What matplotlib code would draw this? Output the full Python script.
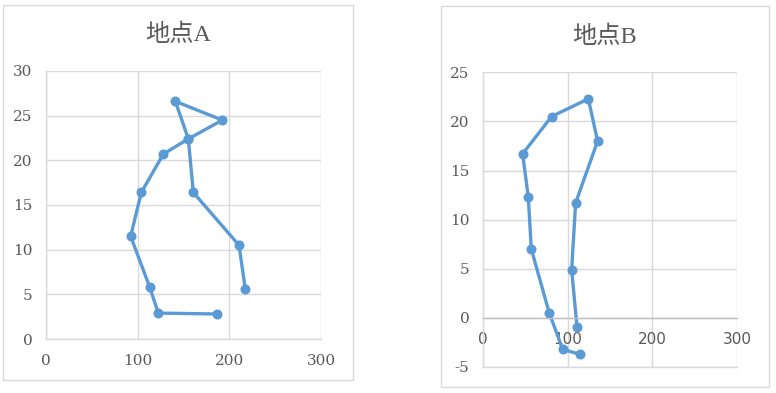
import matplotlib
matplotlib.use("Agg")
import matplotlib.pyplot as plt
from matplotlib.patches import Rectangle

# Data
a_x = [186.0, 122.3, 112.9, 92.1, 103.7, 127.8, 155.1, 192.2, 140.9, 155.1, 160.5, 210.4, 217.3]
a_y = [2.8, 2.9, 5.8, 11.5, 16.4, 20.7, 22.4, 24.5, 26.6, 22.4, 16.4, 10.5, 5.6]
b_x = [113.9, 93.8, 78.0, 56.8, 53.2, 46.5, 80.8, 124.2, 135.2, 109.2, 104.5, 110.8]
b_y = [-3.7, -3.2, 0.5, 7.0, 12.3, 16.7, 20.5, 22.3, 18.0, 11.7, 4.9, -0.9]
titles = ["地点A", "地点B"]
x_ticks = [0, 100, 200, 300]
a_yticks = [0, 5, 10, 15, 20, 25, 30]
b_yticks = [-5, 0, 5, 10, 15, 20, 25]

LINE = "#5B9BD5"
GRID = "#D9D9D9"
TXT = "#595959"
TICKFONT = "DejaVu Serif"

fig = plt.figure(figsize=(7.76, 3.93), dpi=100)
fig.patch.set_facecolor("white")

# chart borders
fig.patches.append(Rectangle((0.00387, 0.0331), 0.451, 0.954, transform=fig.transFigure,
                             fill=False, edgecolor=GRID, linewidth=1.0))
fig.patches.append(Rectangle((0.568, 0.016), 0.4235, 0.9687, transform=fig.transFigure,
                             fill=False, edgecolor=GRID, linewidth=1.0))

def style(ax, yticks, ylim):
    ax.set_xlim(0, 300)
    ax.set_ylim(*ylim)
    ax.set_xticks(x_ticks)
    ax.set_yticks(yticks)
    ax.set_xticklabels([str(v) for v in x_ticks])
    ax.set_yticklabels([str(v) for v in yticks])
    ax.grid(True, color=GRID, linewidth=1.0)
    ax.set_axisbelow(True)
    for s in ["top", "right"]:
        ax.spines[s].set_visible(False)
    for s in ["left", "bottom"]:
        ax.spines[s].set_color(GRID)
        ax.spines[s].set_linewidth(1.0)
    ax.tick_params(length=0, colors=TXT, labelsize=11)
    ax.tick_params(axis="y", pad=10)
    ax.tick_params(axis="x", pad=11)
    for lab in ax.get_xticklabels() + ax.get_yticklabels():
        lab.set_fontfamily(TICKFONT)

axA = fig.add_axes([0.0597, 0.1374, 0.354, 0.682])
style(axA, a_yticks, (0, 30))
axA.plot(a_x, a_y, color=LINE, linewidth=2.4, marker="o", markersize=6.2,
         solid_capstyle="round", solid_joinstyle="round", clip_on=False)

axB = fig.add_axes([0.6228, 0.0662, 0.3269, 0.7498])
style(axB, b_yticks, (-5, 25))
axB.axhline(b_yticks[0], color=GRID, linewidth=1.0, zorder=0.5, clip_on=False)
axB.spines["bottom"].set_position(("data", 0))
axB.spines["bottom"].set_color("#BFBFBF")
axB.tick_params(axis="x", pad=10)
axB.plot(b_x, b_y, color=LINE, linewidth=2.4, marker="o", markersize=6.2,
         solid_capstyle="round", solid_joinstyle="round", clip_on=False)

title_font = ["Liberation Serif", "Noto Sans CJK JP"]
fig.text(178.5 / 776, 1 - 35 / 393, titles[0], ha="center", va="center",
         fontsize=17.5, color=TXT, family=title_font)
fig.text(605 / 776, 1 - 37 / 393, titles[1], ha="center", va="center",
         fontsize=17.5, color=TXT, family=title_font)

fig.savefig("out.png", dpi=100, facecolor="white")
